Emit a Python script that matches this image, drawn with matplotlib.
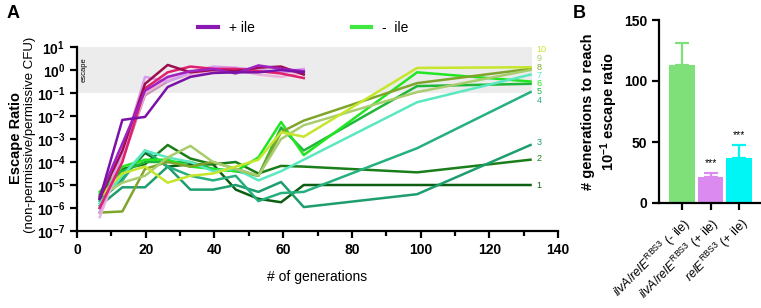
import numpy as np
import matplotlib
matplotlib.use("Agg")
import matplotlib.pyplot as plt
from matplotlib.ticker import FixedLocator, FuncFormatter, MultipleLocator, NullLocator
from matplotlib.lines import Line2D

plt.rcParams['font.family'] = ['Liberation Sans', 'DejaVu Sans']
plt.rcParams['mathtext.fontset'] = 'custom'
plt.rcParams['mathtext.rm'] = 'Liberation Sans'
plt.rcParams['mathtext.it'] = 'Liberation Sans:italic'
plt.rcParams['mathtext.bf'] = 'Liberation Sans:bold'

# ---------------- data ----------------
gen_minus = [6.6, 13.2, 19.8, 26.4, 33, 39.6, 46.2, 52.8, 59.4, 66, 99, 132]
gen_plus = [6.6, 13.2, 19.8, 26.4, 33, 39.6, 46.2, 52.8, 59.4, 66]

# log10 escape ratio, - ile, replicates 1..10
minus_log = [
    [-5.6, -4.7, -3.6, -4.2, -4.1, -4.1, -5.2, -5.6, -5.75, -5.0, -5.0, -5.0],
    [-5.5, -4.3, -4.1, -3.26, -3.85, -4.1, -4.0, -4.5, -4.17, -4.2, -4.45, -3.9],
    [-5.9, -5.1, -5.1, -4.2, -5.2, -5.2, -5.0, -5.3, -4.87, -5.96, -5.4, -3.26],
    [-5.7, -4.8, -3.5, -4.2, -4.6, -4.8, -4.6, -5.7, -5.35, -5.3, -3.4, -0.96],
    [-5.4, -4.4, -4.0, -4.0, -4.0, -4.3, -4.4, -4.6, -2.5, -3.5, -0.7, -0.6],
    [-5.3, -4.2, -3.9, -3.9, -4.2, -4.3, -4.4, -3.8, -2.26, -3.7, -0.1, -0.5],
    [-5.8, -4.6, -3.5, -3.8, -4.0, -4.4, -4.3, -4.8, -4.4, -3.9, -1.4, -0.2],
    [-6.2, -6.15, -4.3, -4.0, -4.2, -4.0, -4.3, -4.6, -2.7, -2.2, -0.57, 0.05],
    [-5.5, -4.9, -4.6, -3.8, -3.3, -4.0, -4.3, -4.6, -3.0, -2.4, -0.96, 0.0],
    [-5.5, -4.5, -4.2, -4.9, -4.6, -4.5, -4.2, -3.9, -2.7, -2.9, 0.09, 0.12],
]
minus_colors = ['#0B5E12', '#1A7F1A', '#1E9E6E', '#25B07E', '#1DB83A',
                '#22E622', '#5AE8C0', '#7FA52A', '#A9CD6E', '#C5E62A']
minus_names = ['1', '2', '3', '4', '5', '6', '7', '8', '9', '10']
label_log = [-5.04, -3.83, -3.17, -1.33, -0.95, -0.57, -0.22, 0.13, 0.5, 0.87]

# log10 escape ratio, + ile
plus_log = [
    [-6.0, -3.9, -1.1, -0.5, -0.15, 0.0, -0.05, 0.0, -0.1, 0.0],
    [-6.4, -3.8, -1.0, -0.4, -0.2, -0.1, 0.0, -0.2, -0.3, -0.1],
    [-6.2, -3.6, -0.3, -0.5, -0.1, 0.15, 0.1, 0.0, -0.1, 0.05],
    [-6.0, -4.0, -0.8, -0.1, 0.15, 0.05, 0.05, -0.05, -0.15, -0.35],
    [-5.6, -3.5, -0.6, 0.22, -0.1, 0.0, -0.05, 0.1, 0.15, -0.2],
    [-5.5, -3.2, -0.9, -0.3, -0.05, 0.05, -0.15, 0.2, 0.05, -0.05],
    [-5.6, -2.17, -2.04, -0.74, -0.3, -0.13, -0.1, -0.1, 0.0, -0.1],
]
plus_colors = ['#C895B5', '#EBB4DC', '#D8A0EC', '#E0206E', '#9C0E4E', '#A020C0', '#7B12A8']

# panel B
bar_names = [r'$\mathit{ilvA/relE}^{\mathrm{RBS3}}$ (- ile)',
             r'$\mathit{ilvA/relE}^{\mathrm{RBS3}}$ (+ ile)',
             r'$\mathit{relE}^{\mathrm{RBS3}}$ (+ ile)']
bar_vals = [113, 21.5, 37]
bar_err = [18, 3.5, 10.5]
bar_colors = ['#7FE07A', '#DB8AF0', '#00F5F5']
bar_stars = ['', '***', '***']

# ---------------- figure ----------------
fig = plt.figure(figsize=(7.61, 3.08), dpi=100)

# ---- panel A ----
ax = fig.add_axes([77 / 761, 1 - 231 / 308, 481 / 761, 184 / 308])
ax.axhspan(0.1, 10, xmin=0, xmax=132.5 / 140, color='#ECECEC', zorder=0, lw=0)
ax.text(1.2, 1.0, 'escape', rotation=90, fontsize=5.5, va='center', ha='left')

for vals, c in zip(minus_log, minus_colors):
    ax.plot(gen_minus, 10 ** np.array(vals), color=c, lw=1.8, zorder=2)
for vals, c in zip(plus_log, plus_colors):
    ax.plot(gen_plus, 10 ** np.array(vals), color=c, lw=1.8, zorder=3)
for name, ly, c in zip(minus_names, label_log, minus_colors):
    ax.text(133.8, 10 ** ly, name, color=c, fontsize=6.5, va='center', ha='left')

ax.set_yscale('log')
ax.set_xlim(0, 140)
ax.set_ylim(1e-7, 1e1)
ax.yaxis.set_major_locator(FixedLocator([10.0 ** k for k in range(-7, 2)]))
ax.yaxis.set_minor_locator(NullLocator())
ax.yaxis.set_major_formatter(FuncFormatter(
    lambda v, p: r'$\mathbf{10^{%d}}$' % int(round(np.log10(v)))))
ax.xaxis.set_major_locator(MultipleLocator(20))
ax.xaxis.set_minor_locator(MultipleLocator(10))
ax.tick_params(axis='both', which='major', labelsize=10, width=1.6, length=5)
ax.tick_params(axis='x', which='minor', width=1.6, length=3.5)
plt.setp(ax.get_xticklabels(), fontweight='bold')
for s in ['top', 'right']:
    ax.spines[s].set_visible(False)
for s in ['left', 'bottom']:
    ax.spines[s].set_linewidth(1.6)
ax.set_xlabel('# of generations', fontsize=10)
ax.xaxis.set_label_coords(0.5, -0.21)

fig.text(16 / 761, 1 - 138 / 308, 'Escape Ratio', rotation=90, fontsize=10.5,
         fontweight='bold', ha='center', va='center')
fig.text(30 / 761, 1 - 135 / 308, '(non-permissive/permissive CFU)', rotation=90,
         fontsize=9.5, ha='center', va='center')

handles = [Line2D([], [], color='#8B1AB5', lw=3), Line2D([], [], color='#3EE83E', lw=3)]
ax.legend(handles, ['+ ile', '-  ile'], loc='center left', bbox_to_anchor=(0.252, 1.103),
          ncol=2, frameon=False, fontsize=10, borderpad=0, borderaxespad=0,
          handlelength=1.4, handletextpad=0.8, columnspacing=7.0)

fig.text(0.008, 0.955, 'A', fontsize=13, fontweight='bold', va='center')

# ---- panel B ----
bx = fig.add_axes([659 / 761, 1 - 203 / 308, 101 / 761, 183 / 308])
xpos = np.arange(len(bar_vals))
bx.bar(xpos, bar_vals, width=0.9, color=bar_colors, zorder=2)
for x, v, e, c, st in zip(xpos, bar_vals, bar_err, bar_colors, bar_stars):
    bx.errorbar(x, v, yerr=[[0], [e]], color=c, capsize=5, capthick=1.6,
                elinewidth=1.6, zorder=1)
    if st:
        bx.text(x, v + e + 4, st, ha='center', va='bottom', fontsize=7.5)
bx.set_xlim(-0.8, 2.73)
bx.set_ylim(0, 150)
bx.set_yticks([0, 50, 100, 150])
bx.set_xticks(xpos)
bx.set_xticklabels(bar_names, rotation=45, ha='right', rotation_mode='anchor', fontsize=9)
bx.tick_params(axis='both', labelsize=10, width=1.6, length=5)
bx.tick_params(axis='x', labelsize=9)
plt.setp(bx.get_yticklabels(), fontweight='bold')
for s in ['top', 'right']:
    bx.spines[s].set_visible(False)
for s in ['left', 'bottom']:
    bx.spines[s].set_linewidth(1.6)
bx.set_ylabel('# generations to reach\n' + r'$\mathbf{10^{-1}}$ escape ratio',
              fontsize=10.5, fontweight='bold', labelpad=3)

fig.text(0.752, 0.955, 'B', fontsize=13, fontweight='bold', va='center')

fig.savefig('out.png', dpi=100)
